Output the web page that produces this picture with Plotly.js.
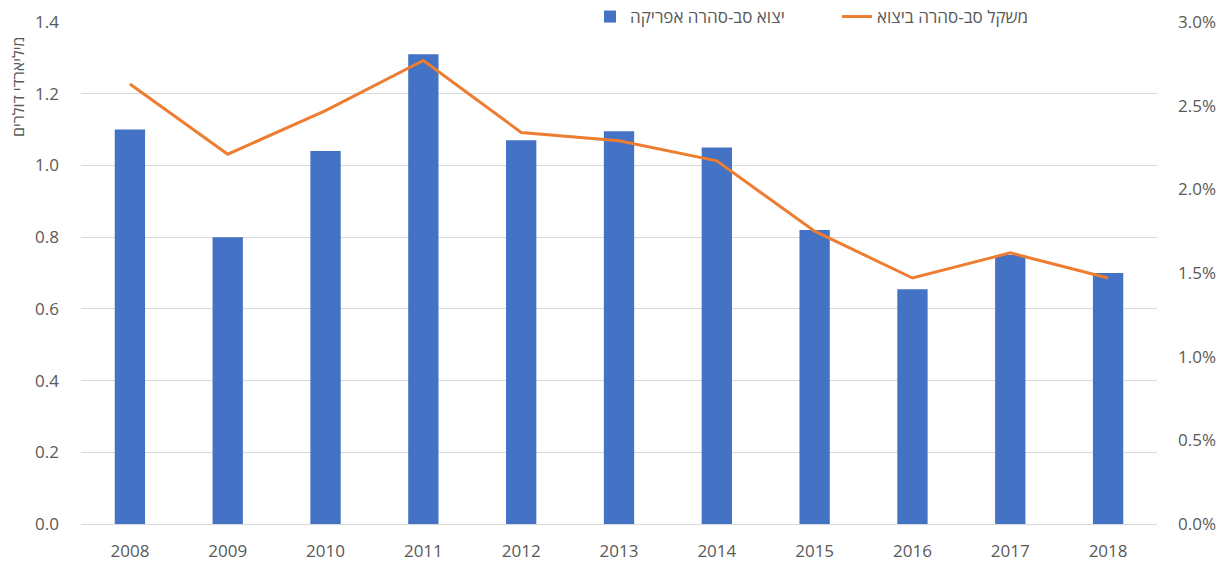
<!DOCTYPE html>
<html>
<head>
<meta charset="utf-8">
<script src="https://cdn.plot.ly/plotly-3.0.1.min.js"></script>
<style>html,body{margin:0;padding:0;background:#fff;}#chart{width:1224px;height:563px;}</style>
</head>
<body>
<div id="chart"></div>
<script>
const years = ['2008','2009','2010','2011','2012','2013','2014','2015','2016','2017','2018'];
const exportsBn = [1.10, 0.80, 1.04, 1.31, 1.07, 1.095, 1.05, 0.82, 0.655, 0.75, 0.70];
const sharePct = [2.63, 2.21, 2.47, 2.77, 2.34, 2.29, 2.17, 1.75, 1.47, 1.62, 1.47];
const barName = 'יצוא סב-סהרה אפריקה';
const lineName = 'משקל סב-סהרה ביצוא';
const yTitle = 'מיליארדי דולרים';

const font = "'Open Sans', 'Noto Sans', 'DejaVu Sans', sans-serif";
const grey = '#595959';

const traces = [
  {type:'bar', x:years, y:exportsBn, name:barName, marker:{color:'#4472C4'}, yaxis:'y'},
  {type:'scatter', mode:'lines', x:years, y:sharePct, name:lineName, line:{color:'#ED7D31', width:3}, yaxis:'y2'}
];

const layout = {
  width:1224, height:563,
  margin:{l:81, r:67, t:22, b:39, autoexpand:false},
  paper_bgcolor:'#fff', plot_bgcolor:'#fff',
  font:{family:font, color:grey, size:17},
  bargap:0.69,
  showlegend:true,
  legend:{orientation:'h', xref:'container', yref:'container', x:590/1224, xanchor:'left', y:1-17/563, yanchor:'middle',
          font:{size:17, color:grey}, bgcolor:'rgba(0,0,0,0)', itemwidth:30, entrywidth:202, entrywidthmode:'pixels'},
  xaxis:{type:'category', showgrid:false, showline:false, ticks:'', tickfont:{size:17, color:grey}, zeroline:false, ticklabelstandoff:15},
  yaxis:{range:[0,1.4], dtick:0.2, tick0:0, tickformat:'.1f', showgrid:true, gridcolor:'#d9d9d9', gridwidth:1,
         zeroline:true, zerolinecolor:'#d9d9d9', zerolinewidth:1, showline:false, ticks:'',
         tickfont:{size:17, color:grey}, ticklabelstandoff:21},
  yaxis2:{range:[0,3.0], dtick:0.5, tick0:0, tickformat:'.1f', ticksuffix:'%', overlaying:'y', side:'right',
          showgrid:false, zeroline:false, showline:false, ticks:'', tickfont:{size:17, color:grey}, ticklabelstandoff:20},
  annotations:[{text:yTitle, xref:'paper', yref:'paper', x:-63/1076, y:1-65/502, xanchor:'center', yanchor:'middle',
                textangle:-90, showarrow:false, font:{size:16, color:grey}}]
};

Plotly.newPlot('chart', traces, layout, {displayModeBar:false, staticPlot:true});
</script>
</body>
</html>
